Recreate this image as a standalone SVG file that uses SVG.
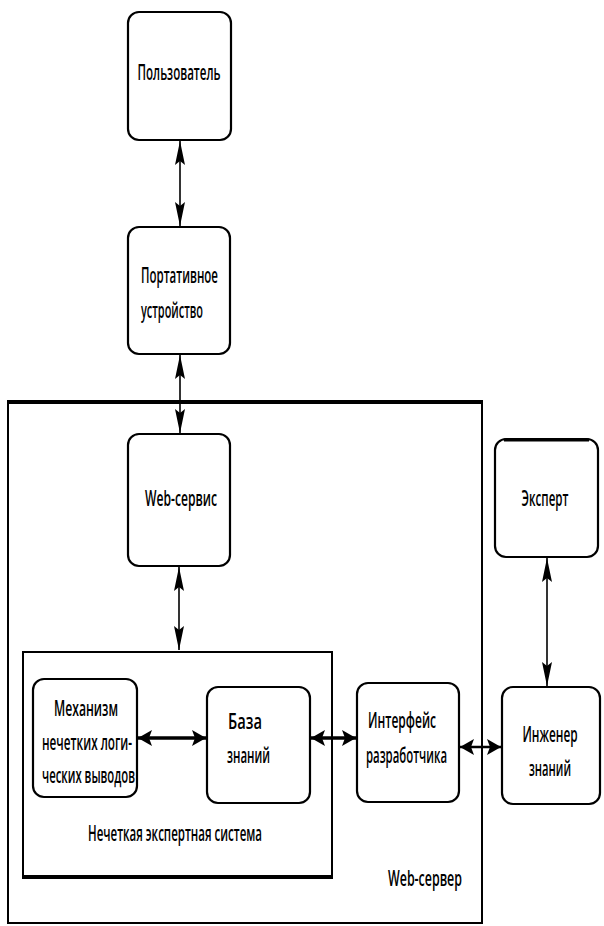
<svg xmlns="http://www.w3.org/2000/svg" width="604" height="926" viewBox="0 0 604 926">
<style>
.box{fill:#fff;stroke:#000;stroke-width:2.2}
.frame{fill:none;stroke:#000;stroke-width:2}
.t{font-family:"Open Sans","Liberation Sans",sans-serif;font-size:21px;font-weight:600;fill:#000}
.v{stroke:#000;stroke-width:1.6;fill:none}
.h{stroke:#000;stroke-width:3.5;fill:none}
.h2{stroke:#000;stroke-width:2.5;fill:none}
</style>
<defs>
<marker id="av" markerUnits="userSpaceOnUse" markerWidth="26" markerHeight="12" refX="24" refY="5" orient="auto-start-reverse" viewBox="0 0 26 12">
<path d="M0,0 L24,5 L0,10 L4,5 z" fill="#000"/>
</marker>
<marker id="ah" markerUnits="userSpaceOnUse" markerWidth="16" markerHeight="18" refX="14" refY="8" orient="auto-start-reverse" viewBox="0 0 16 18">
<path d="M0,0 L14,8 L0,16 L3,8 z" fill="#000"/>
</marker>
</defs>

<g id="web-server">
<rect class="frame" x="8" y="402" width="474" height="521"/>
<line x1="7" y1="402" x2="483" y2="402" stroke="#000" stroke-width="4"/>
<text class="t" x="425" y="886" text-anchor="middle" textLength="74" lengthAdjust="spacingAndGlyphs">Web-сервер</text>
</g>

<g id="fuzzy-system">
<rect class="frame" x="23" y="652" width="309" height="225"/>
<line x1="22" y1="877" x2="333" y2="877" stroke="#000" stroke-width="4"/>
<text class="t" x="175" y="841" text-anchor="middle" textLength="174" lengthAdjust="spacingAndGlyphs">Нечеткая экспертная система</text>
</g>

<g id="user">
<rect class="box" x="128" y="12" width="103" height="128" rx="11"/>
<text class="t" x="179" y="80" text-anchor="middle" textLength="83" lengthAdjust="spacingAndGlyphs">Пользователь</text>
</g>

<g id="device">
<rect class="box" x="128" y="227" width="102" height="127" rx="11"/>
<text class="t" x="141" y="283" textLength="77" lengthAdjust="spacingAndGlyphs">Портативное</text>
<text class="t" x="141" y="318" textLength="62" lengthAdjust="spacingAndGlyphs">устройство</text>
</g>

<g id="web-service">
<rect class="box" x="128" y="434" width="102" height="132" rx="11"/>
<text class="t" x="181" y="506" text-anchor="middle" textLength="72" lengthAdjust="spacingAndGlyphs">Web-сервис</text>
</g>

<g id="expert">
<rect class="box" x="495" y="439" width="103" height="118" rx="11"/>
<line x1="504" y1="440" x2="589" y2="440" stroke="#000" stroke-width="3"/>
<text class="t" transform="translate(545,506) scale(0.6,1)" text-anchor="middle" textLength="78" lengthAdjust="spacingAndGlyphs">Эксперт</text>
</g>

<g id="inference">
<rect class="box" x="33" y="679" width="104" height="118" rx="11"/>
<text class="t" x="86" y="716" text-anchor="middle" textLength="64" lengthAdjust="spacingAndGlyphs">Механизм</text>
<text class="t" x="42" y="750" textLength="90" lengthAdjust="spacingAndGlyphs">нечетких логи-</text>
<text class="t" x="42" y="783" textLength="93" lengthAdjust="spacingAndGlyphs">ческих выводов</text>
</g>

<g id="knowledge-base">
<rect class="box" x="207" y="687" width="103" height="116" rx="11"/>
<text class="t" x="228" y="729" textLength="34" lengthAdjust="spacingAndGlyphs">База</text>
<text class="t" x="227" y="763" textLength="43" lengthAdjust="spacingAndGlyphs">знаний</text>
</g>

<g id="dev-interface">
<rect class="box" x="357" y="683" width="102" height="119" rx="11"/>
<text class="t" x="368" y="728" textLength="68" lengthAdjust="spacingAndGlyphs">Интерфейс</text>
<text class="t" x="366" y="763" textLength="81" lengthAdjust="spacingAndGlyphs">разработчика</text>
</g>

<g id="engineer">
<rect class="box" x="502" y="687" width="98" height="117" rx="11"/>
<text class="t" transform="translate(550,742) scale(0.6,1)" text-anchor="middle" textLength="92" lengthAdjust="spacingAndGlyphs">Инженер</text>
<text class="t" transform="translate(550,776) scale(0.6,1)" text-anchor="middle" textLength="70" lengthAdjust="spacingAndGlyphs">знаний</text>
</g>

<g id="connectors">
<line class="v" x1="180" y1="141" x2="180" y2="226" marker-start="url(#av)" marker-end="url(#av)"/>
<line class="v" x1="180" y1="355" x2="180" y2="433" marker-start="url(#av)" marker-end="url(#av)"/>
<line class="v" x1="179" y1="567" x2="179" y2="650" marker-start="url(#av)" marker-end="url(#av)"/>
<line class="v" x1="547" y1="558" x2="547" y2="686" marker-start="url(#av)" marker-end="url(#av)"/>
<line class="h" x1="138" y1="738" x2="206" y2="738" marker-start="url(#ah)" marker-end="url(#ah)"/>
<line class="h" x1="311" y1="738" x2="356" y2="738" marker-start="url(#ah)" marker-end="url(#ah)"/>
<line class="h2" x1="460" y1="747" x2="501" y2="747" marker-start="url(#ah)" marker-end="url(#ah)"/>
</g>
</svg>
